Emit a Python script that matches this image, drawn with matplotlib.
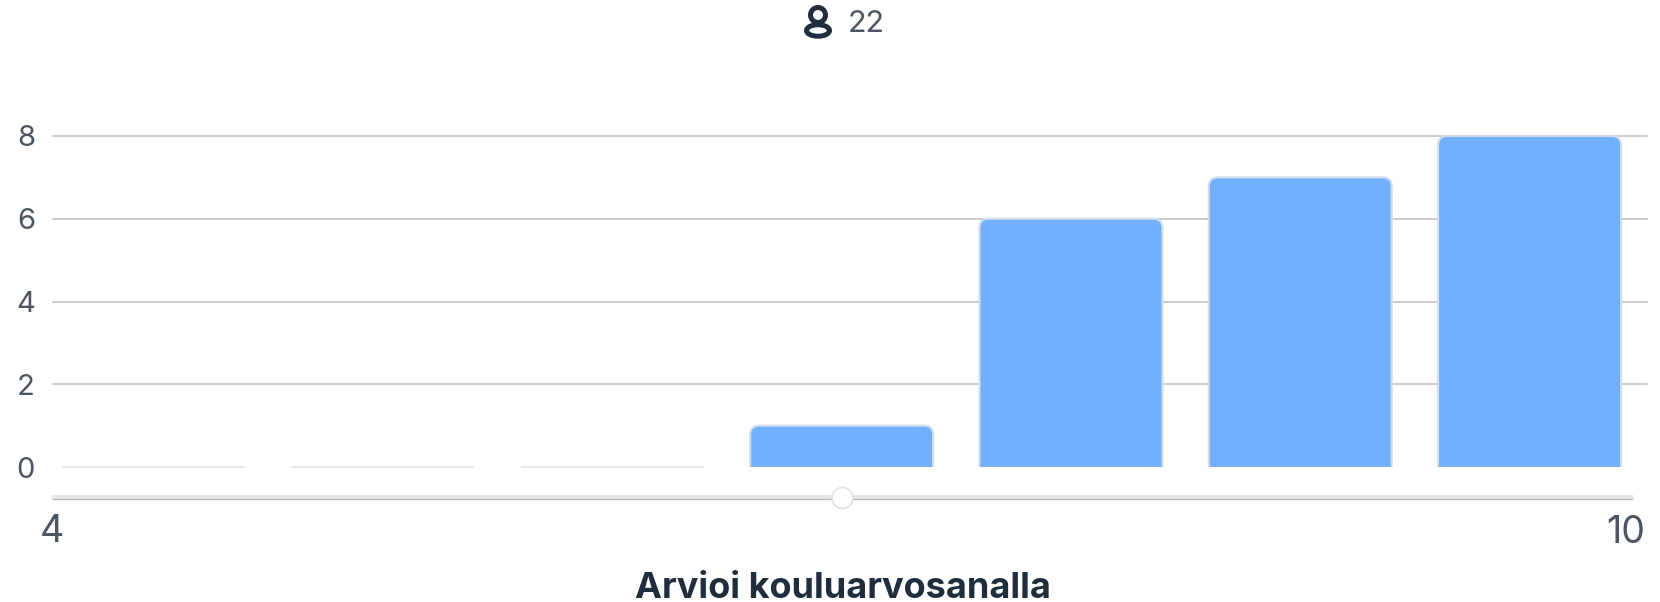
import matplotlib
matplotlib.use("Agg")
import matplotlib.pyplot as plt
from matplotlib.patches import Circle, Ellipse, PathPatch
from matplotlib.path import Path

grades = [4, 5, 6, 7, 8, 9, 10]
counts = [0, 0, 0, 1, 6, 7, 8]
y_ticks = [0, 2, 4, 6, 8]
respondents = "22"
slider_min = 4
slider_max = 10
slider_value = 7
question = "Arvioi kouluarvosanalla"

W, H = 1660, 602
plt.rcParams['font.family'] = ['Inter', 'DejaVu Sans']

BLUE = '#70b0ff'
EDGE = '#d3dde9'
ZERO = '#e6eaf0'
GRID = '#bcbfc4'
TEXT = '#4b5563'
DARK = '#1f2d3d'

fig = plt.figure(figsize=(W / 100, H / 100), dpi=100, facecolor='white')

# px box of the plot: gridlines run 53..1647, 0 at y=467, 8 at y=136
ax = fig.add_axes([53 / W, 1 - 467 / H, (1647 - 53) / W, (467 - 136) / H])
ax.set_xlim(3.561, 10.512)
ax.set_ylim(0, 8)
for s in ax.spines.values():
    s.set_visible(False)
ax.set_xticks([])
ax.set_yticks(y_ticks)
ax.tick_params(axis='y', length=0, pad=13, labelsize=21, labelcolor=TEXT)
for v in y_ticks[1:]:
    ax.axhline(v, color=GRID, lw=1.1, zorder=1, clip_on=False)


def rounded_bar(x, h, width=0.798):
    # radius is 9px, converted to data units on each axis
    rx = 9 / 229.3
    ry = 9 / 41.37
    l, r = x - width / 2, x + width / 2
    if h == 0:
        return Path([(l, 0), (r, 0)], [Path.MOVETO, Path.LINETO])
    verts = [(l, 0), (l, h - ry), (l, h), (l + rx, h), (r - rx, h), (r, h), (r, h - ry), (r, 0)]
    codes = [Path.MOVETO, Path.LINETO, Path.CURVE3, Path.CURVE3, Path.LINETO, Path.CURVE3, Path.CURVE3, Path.LINETO]
    return Path(verts, codes)


for g, c in zip(grades, counts):
    ax.add_patch(PathPatch(rounded_bar(g, c), facecolor=BLUE if c else 'none', edgecolor=EDGE if c else ZERO,
                           lw=1.5, zorder=3, clip_on=False))

# overlay in pixel coordinates for the header and the slider
ov = fig.add_axes([0, 0, 1, 1], facecolor='none')
ov.set_xlim(0, W)
ov.set_ylim(H, 0)
ov.axis('off')

# person icon and count
ov.add_patch(Circle((818, 15), 7.5, fill=False, ec=DARK, lw=3.6))
ov.add_patch(Ellipse((818, 30.5), 23, 11.5, fill=False, ec=DARK, lw=3.6))
ov.text(848, 24, respondents, fontsize=22, color=TEXT, ha='left', va='center')

# slider
x0, x1 = 53, 1632
ov.plot([x0, x1], [497, 497], color='#e6e7e8', lw=3, solid_capstyle='round', zorder=2)
ov.plot([x0, x1], [499, 499], color='#b5b7ba', lw=1, zorder=2)
hx = x0 + (slider_value - slider_min) / (slider_max - slider_min) * (x1 - x0)
ov.add_patch(Circle((hx, 498), 10.5, fc='white', ec='#dfe1e4', lw=1.2, zorder=3))
ov.text(52, 532, str(slider_min), fontsize=27, color=TEXT, ha='center', va='center')
ov.text(1626, 533, str(slider_max), fontsize=27, color=TEXT, ha='center', va='center')

ov.text(843, 588, question, fontsize=26, fontweight='bold', color=DARK, ha='center', va='center')

fig.savefig('out.png', dpi=100)
